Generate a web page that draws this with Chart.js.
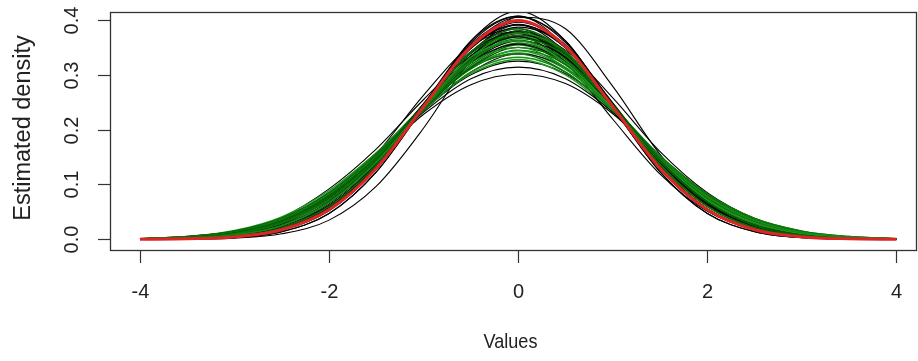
<!DOCTYPE html>
<html lang="en">
<head>
  <meta charset="UTF-8" />
  <title>Estimated density</title>
  <script src="https://cdn.jsdelivr.net/npm/chart.js"></script>
  <style>
    html, body { margin: 0; padding: 0; background: #fff; }
  </style>
</head>
<body>
  <canvas id="densityChart" width="918" height="361"></canvas>

  <script>
    // grid of x values the curves are read at
    const xGrid = [-4, -3.5, -3, -2.5, -2, -1.5, -1, -0.5, 0, 0.5, 1, 1.5, 2, 2.5, 3, 3.5, 4];

    const xTicks = [-4, -2, 0, 2, 4];
    const xTickLabels = ["-4", "-2", "0", "2", "4"];
    const yTicks = [0, 0.1, 0.2, 0.3, 0.4];
    const yTickLabels = ["0.0", "0.1", "0.2", "0.3", "0.4"];

    // normal density (red)
    const redCurve = [0.0001, 0.0009, 0.0044, 0.0175, 0.054, 0.1295, 0.242, 0.352, 0.399, 0.352, 0.242, 0.1295, 0.054, 0.0175, 0.0044, 0.0009, 0.0001];

    // bootstrap curves (black)
    const blackCurves = [
      [0, .001, .003, .014, .047, .123, .241, .362, .416, .362, .241, .123, .047, .014, .003, .001, 0],
      [0, .001, .003, .014, .047, .123, .241, .362, .407, .352, .242, .130, .054, .018, .004, .001, 0],
      [0, .001, .004, .018, .054, .130, .242, .352, .405, .362, .241, .123, .047, .014, .003, .001, 0],
      [0, .001, .004, .018, .055, .133, .247, .359, .407, .359, .247, .133, .055, .018, .004, .001, 0],
      [0, .001, .004, .018, .054, .130, .242, .352, .391, .342, .242, .136, .060, .021, .006, .001, 0],
      [0, .001, .006, .021, .060, .136, .242, .342, .391, .352, .242, .130, .054, .018, .004, .001, 0],
      [0, .001, .006, .021, .061, .139, .247, .349, .392, .349, .247, .139, .061, .021, .006, .001, 0],
      [0, .001, .006, .021, .060, .136, .242, .342, .376, .332, .241, .141, .067, .025, .008, .002, 0],
      [0, .002, .008, .026, .069, .145, .248, .342, .387, .352, .249, .140, .062, .022, .006, .001, 0],
      [0, .001, .004, .018, .054, .130, .242, .352, .384, .332, .241, .141, .067, .025, .008, .002, 0],
      [0, .002, .008, .025, .067, .141, .241, .332, .369, .332, .241, .141, .067, .025, .008, .002, 0],
      [.001, .003, .010, .030, .072, .145, .239, .322, .362, .332, .241, .141, .067, .025, .008, .002, 0],
      [.001, .003, .010, .030, .072, .145, .239, .322, .356, .322, .239, .145, .072, .030, .010, .003, .001],
      [.001, .005, .015, .038, .083, .152, .235, .305, .338, .313, .237, .149, .078, .034, .012, .004, .001],
      [.001, .003, .011, .033, .080, .150, .232, .293, .314, .293, .232, .150, .080, .033, .011, .003, .001],
      [0, 0, .002, .010, .035, .097, .203, .328, .405, .384, .279, .155, .066, .022, .005, .001, 0],
      [0, .002, .0085, .028, .074, .156, .263, .353, .378, .323, .219, .119, .051, .018, .0049, .001, 0],
      [.001, .003, .011, .034, .080, .150, .228, .282, .301, .284, .229, .149, .079, .033, .010, .003, .001],
      [0, .001, .004, .017, .052, .128, .243, .356, .400, .350, .238, .127, .052, .017, .004, .001, 0],
      [0, .001, .005, .020, .058, .134, .245, .348, .396, .355, .246, .131, .055, .019, .005, .001, 0],
      [0, .001, .005, .019, .056, .133, .240, .340, .380, .340, .240, .133, .056, .019, .005, .001, 0],
      [.001, .002, .007, .024, .065, .140, .238, .330, .372, .338, .243, .138, .063, .023, .007, .002, 0],
      [.001, .003, .011, .033, .078, .150, .235, .300, .325, .302, .236, .148, .076, .031, .010, .003, .001],
      [.001, .004, .014, .040, .092, .165, .255, .335, .375, .330, .240, .140, .065, .025, .008, .002, 0],
      [0, .002, .007, .024, .062, .137, .240, .335, .380, .345, .258, .160, .085, .038, .013, .004, .001]
    ];

    // bootstrap curves (green)
    const greenCurves = [
      [0, .001, .006, .021, .060, .136, .242, .342, .384, .342, .242, .136, .060, .021, .006, .001, 0],
      [0, .002, .008, .025, .067, .141, .241, .332, .376, .342, .242, .136, .060, .021, .006, .001, 0],
      [0, .002, .008, .026, .068, .144, .246, .339, .376, .339, .246, .144, .068, .026, .008, .002, 0],
      [0, .002, .008, .025, .067, .141, .241, .332, .362, .322, .239, .145, .072, .030, .010, .003, .001],
      [.001, .003, .010, .030, .073, .146, .241, .325, .366, .335, .243, .142, .068, .025, .008, .002, 0],
      [.001, .003, .010, .031, .073, .148, .244, .328, .363, .328, .244, .148, .073, .031, .010, .003, .001],
      [.001, .003, .010, .030, .072, .145, .239, .322, .350, .313, .237, .149, .078, .034, .012, .004, .001],
      [.001, .004, .012, .034, .078, .149, .237, .313, .350, .322, .239, .145, .072, .030, .010, .003, .001],
      [.001, .004, .012, .034, .078, .149, .237, .313, .344, .313, .237, .149, .078, .034, .012, .004, .001],
      [.001, .004, .012, .034, .078, .149, .237, .313, .338, .305, .235, .152, .083, .038, .015, .005, .001],
      [.001, .005, .015, .039, .085, .155, .240, .311, .345, .319, .242, .152, .080, .035, .012, .004, .001],
      [.001, .005, .015, .038, .083, .152, .235, .305, .332, .305, .235, .152, .083, .038, .015, .005, .001],
      [0, .001, .006, .021, .060, .136, .242, .342, .370, .322, .239, .145, .072, .030, .010, .003, .001],
      [.001, .003, .010, .030, .072, .145, .239, .322, .370, .342, .242, .136, .060, .021, .006, .001, 0],
      [.001, .004, .013, .036, .082, .153, .240, .315, .355, .318, .240, .148, .075, .032, .011, .003, .001],
      [.001, .003, .011, .033, .077, .149, .242, .327, .372, .330, .241, .143, .069, .027, .008, .002, 0],
      [.001, .004, .014, .038, .086, .158, .243, .312, .340, .310, .238, .150, .079, .035, .012, .004, .001],
      [.001, .003, .010, .031, .075, .148, .243, .330, .380, .336, .244, .141, .066, .026, .008, .002, 0],
      [.001, .005, .016, .041, .089, .158, .238, .302, .328, .300, .232, .151, .082, .037, .014, .004, .001],
      [.001, .004, .012, .035, .080, .152, .240, .318, .358, .325, .242, .146, .073, .031, .010, .003, .001]
    ];

    const greenShades = ["#0a6a0a", "#178a17", "#005c00", "#1f9a1f", "#0d740d"];
    const FONT = '"Liberation Sans", Arial, sans-serif';

    function toPoints(values) {
      return values.map((v, i) => ({ x: xGrid[i], y: v }));
    }

    function curveDataset(values, color, width) {
      return {
        data: toPoints(values),
        borderColor: color,
        borderWidth: width,
        pointRadius: 0,
        fill: false,
        cubicInterpolationMode: "monotone",
        clip: 0
      };
    }

    // red on top: dataset 0 is drawn last
    const datasets = [curveDataset(redCurve, "#dc2626", 3)];
    const n = Math.max(blackCurves.length, greenCurves.length);
    for (let i = 0; i < n; i++) {
      if (greenCurves[i]) datasets.push(curveDataset(greenCurves[i], greenShades[i % greenShades.length], 1.4));
      if (blackCurves[i]) datasets.push(curveDataset(blackCurves[i], "#000", 1.1));
    }

    // box, ticks and labels in the R base-graphics look
    const axesPlugin = {
      id: "axesPlugin",
      afterDraw(chart) {
        const { ctx, chartArea: a, scales: { x, y } } = chart;
        ctx.save();
        ctx.strokeStyle = "#333";
        ctx.fillStyle = "#222";
        ctx.lineWidth = 1.3;
        ctx.strokeRect(a.left + 0.5, a.top + 0.5, a.right - a.left - 1, a.bottom - a.top);

        ctx.lineWidth = 1.2;
        ctx.font = "20px " + FONT;
        ctx.textAlign = "center";
        ctx.textBaseline = "middle";
        xTicks.forEach((v, i) => {
          const px = Math.round(x.getPixelForValue(v)) + 0.5;
          ctx.beginPath();
          ctx.moveTo(px, a.bottom);
          ctx.lineTo(px, a.bottom + 13);
          ctx.stroke();
          ctx.fillText(xTickLabels[i], px, a.bottom + 42);
        });

        yTicks.forEach((v, i) => {
          const py = Math.round(y.getPixelForValue(v)) + 0.5;
          ctx.beginPath();
          ctx.moveTo(a.left, py);
          ctx.lineTo(a.left - 12, py);
          ctx.stroke();
          ctx.save();
          ctx.translate(a.left - 38, py);
          ctx.rotate(-Math.PI / 2);
          ctx.fillText(yTickLabels[i], 0, 0);
          ctx.restore();
        });

        ctx.save();
        ctx.font = "21px " + FONT;
        ctx.translate((a.left + a.right) / 2 - 3, a.bottom + 92);
        ctx.scale(0.86, 1);
        ctx.fillText("Values", 0, 0);
        ctx.restore();

        ctx.save();
        ctx.font = "23.5px " + FONT;
        ctx.translate(a.left - 86, (a.top + a.bottom) / 2 - 3);
        ctx.rotate(-Math.PI / 2);
        ctx.fillText("Estimated density", 0, 0);
        ctx.restore();

        ctx.restore();
      }
    };

    const chart = new Chart(document.getElementById("densityChart").getContext("2d"), {
      type: "line",
      data: { datasets },
      options: {
        responsive: false,
        animation: false,
        devicePixelRatio: 1,
        layout: { padding: { left: 110, right: 1, top: 12, bottom: 111 } },
        plugins: { legend: { display: false }, tooltip: { enabled: false } },
        scales: {
          x: { type: "linear", min: -4.317, max: 4.217, display: false },
          y: { type: "linear", min: -0.0195, max: 0.4146, display: false }
        }
      },
      plugins: [axesPlugin]
    });
  </script>
</body>
</html>
